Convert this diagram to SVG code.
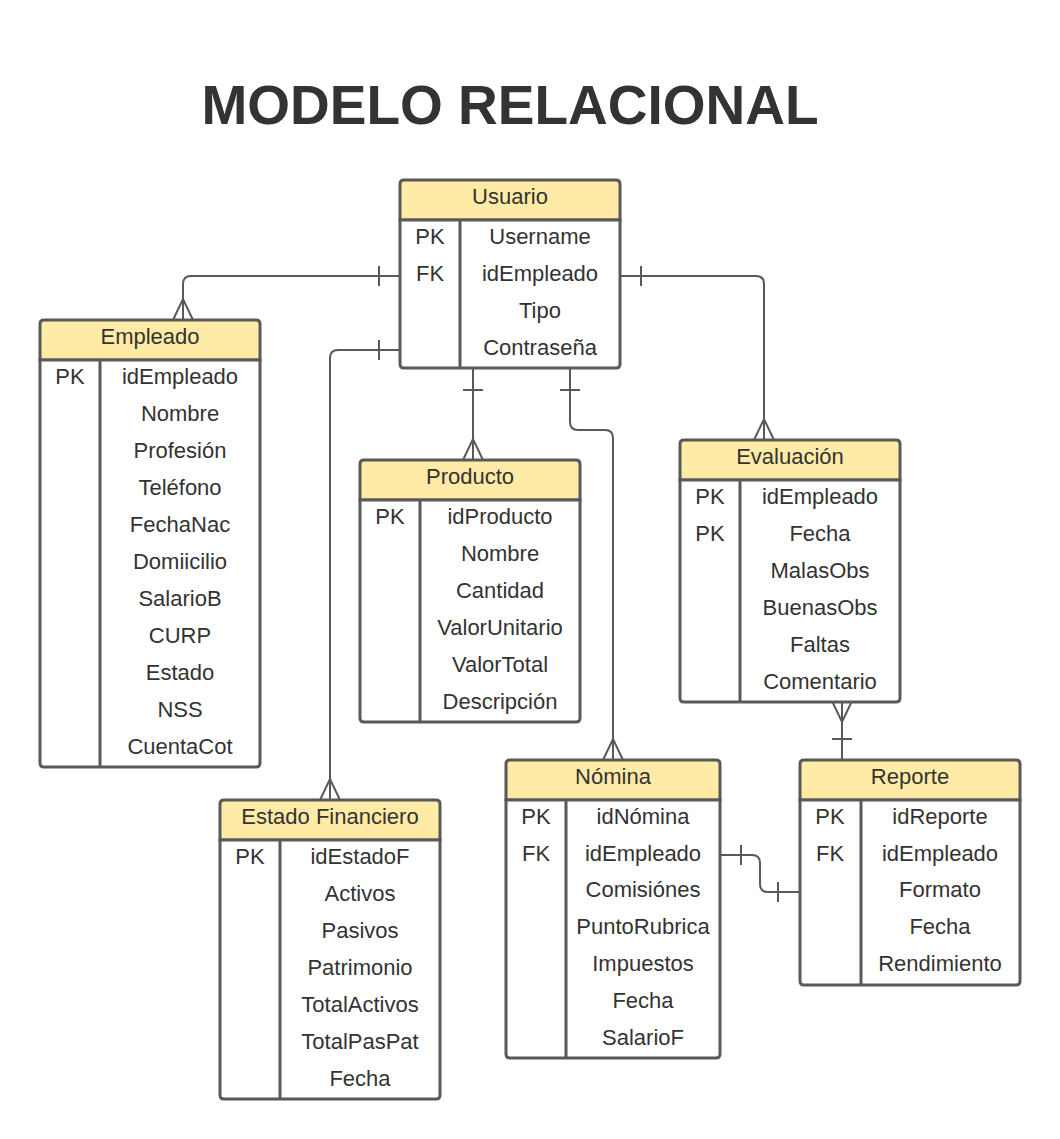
<svg xmlns="http://www.w3.org/2000/svg" width="1060" height="1139" viewBox="0 0 1060 1139">
<style>
.box{fill:#fff;stroke:#595959;stroke-width:3}
.hd{fill:#ffeba6;stroke:#595959;stroke-width:3}
.ln{fill:none;stroke:#595959;stroke-width:3}
.cn{fill:none;stroke:#595959;stroke-width:2}
text{font-family:"Liberation Sans",Arial,sans-serif;font-size:22px;fill:#333;text-anchor:middle}
.title{font-size:55px;font-weight:bold}
</style>
<rect width="1060" height="1139" fill="#fff"/>
<text class="title" x="510" y="124">MODELO RELACIONAL</text>

<g id="connectors">
  <!-- Usuario - Empleado -->
  <path class="cn" d="M400,276 H191 Q183,276 183,284 V320"/>
  <path class="cn" d="M379,266 V286 M173,320 L183,299 L193,320"/>
  <!-- Usuario - Estado Financiero -->
  <path class="cn" d="M400,350 H338 Q330,350 330,358 V800"/>
  <path class="cn" d="M379,340 V360 M320,800 L330,779 L340,800"/>
  <!-- Usuario - Evaluacion -->
  <path class="cn" d="M620,276 H756 Q764,276 764,284 V440"/>
  <path class="cn" d="M641,266 V286 M754,440 L764,419 L774,440"/>
  <!-- Usuario - Producto -->
  <path class="cn" d="M473,368 V460"/>
  <path class="cn" d="M463,390 H483 M463,460 L473,439 L483,460"/>
  <!-- Usuario - Nomina -->
  <path class="cn" d="M570,368 V422 Q570,430 578,430 H605 Q613,430 613,438 V760"/>
  <path class="cn" d="M560,390 H580 M603,760 L613,739 L623,760"/>
  <!-- Evaluacion - Reporte -->
  <path class="cn" d="M842,701 V760"/>
  <path class="cn" d="M832,701 L842,722 L852,701 M832,739 H852"/>
  <!-- Nomina - Reporte -->
  <path class="cn" d="M720,855 H752 Q760,855 760,863 V884 Q760,892 768,892 H800"/>
  <path class="cn" d="M741,845 V865 M778,882 V902"/>
</g>

<g id="usuario">
  <path class="hd" d="M400,220 V184 Q400,180 404,180 H616 Q620,180 620,184 V220 Z"/>
  <path class="box" d="M400,220 H620 V364 Q620,368 616,368 H404 Q400,368 400,364 Z"/>
  <path class="ln" d="M460,220 V368"/>
  <text x="510" y="204">Usuario</text>
  <text x="430" y="244">PK</text><text x="540" y="244">Username</text>
  <text x="430" y="281">FK</text><text x="540" y="281">idEmpleado</text>
  <text x="540" y="318">Tipo</text>
  <text x="540" y="355">Contraseña</text>
</g>

<g id="empleado">
  <path class="hd" d="M40,360 V324 Q40,320 44,320 H256 Q260,320 260,324 V360 Z"/>
  <path class="box" d="M40,360 H260 V763 Q260,767 256,767 H44 Q40,767 40,763 Z"/>
  <path class="ln" d="M100,360 V767"/>
  <text x="150" y="344">Empleado</text>
  <text x="70" y="384">PK</text><text x="180" y="384">idEmpleado</text>
  <text x="180" y="421">Nombre</text>
  <text x="180" y="458">Profesión</text>
  <text x="180" y="495">Teléfono</text>
  <text x="180" y="532">FechaNac</text>
  <text x="180" y="569">Domiicilio</text>
  <text x="180" y="606">SalarioB</text>
  <text x="180" y="643">CURP</text>
  <text x="180" y="680">Estado</text>
  <text x="180" y="717">NSS</text>
  <text x="180" y="754">CuentaCot</text>
</g>

<g id="producto">
  <path class="hd" d="M360,500 V464 Q360,460 364,460 H576 Q580,460 580,464 V500 Z"/>
  <path class="box" d="M360,500 H580 V718 Q580,722 576,722 H364 Q360,722 360,718 Z"/>
  <path class="ln" d="M420,500 V722"/>
  <text x="470" y="484">Producto</text>
  <text x="390" y="524">PK</text><text x="500" y="524">idProducto</text>
  <text x="500" y="561">Nombre</text>
  <text x="500" y="598">Cantidad</text>
  <text x="500" y="635">ValorUnitario</text>
  <text x="500" y="672">ValorTotal</text>
  <text x="500" y="709">Descripción</text>
</g>

<g id="evaluacion">
  <path class="hd" d="M680,480 V444 Q680,440 684,440 H896 Q900,440 900,444 V480 Z"/>
  <path class="box" d="M680,480 H900 V698 Q900,702 896,702 H684 Q680,702 680,698 Z"/>
  <path class="ln" d="M740,480 V702"/>
  <text x="790" y="464">Evaluación</text>
  <text x="710" y="504">PK</text><text x="820" y="504">idEmpleado</text>
  <text x="710" y="541">PK</text><text x="820" y="541">Fecha</text>
  <text x="820" y="578">MalasObs</text>
  <text x="820" y="615">BuenasObs</text>
  <text x="820" y="652">Faltas</text>
  <text x="820" y="689">Comentario</text>
</g>

<g id="estado-financiero">
  <path class="hd" d="M220,840 V804 Q220,800 224,800 H436 Q440,800 440,804 V840 Z"/>
  <path class="box" d="M220,840 H440 V1095 Q440,1099 436,1099 H224 Q220,1099 220,1095 Z"/>
  <path class="ln" d="M280,840 V1099"/>
  <text x="330" y="824">Estado Financiero</text>
  <text x="250" y="864">PK</text><text x="360" y="864">idEstadoF</text>
  <text x="360" y="901">Activos</text>
  <text x="360" y="938">Pasivos</text>
  <text x="360" y="975">Patrimonio</text>
  <text x="360" y="1012">TotalActivos</text>
  <text x="360" y="1049">TotalPasPat</text>
  <text x="360" y="1086">Fecha</text>
</g>

<g id="nomina">
  <path class="hd" d="M506,800 V764 Q506,760 510,760 H716 Q720,760 720,764 V800 Z"/>
  <path class="box" d="M506,800 H720 V1054 Q720,1058 716,1058 H510 Q506,1058 506,1054 Z"/>
  <path class="ln" d="M566,800 V1058"/>
  <text x="613" y="784">Nómina</text>
  <text x="536" y="824">PK</text><text x="643" y="824">idNómina</text>
  <text x="536" y="861">FK</text><text x="643" y="861">idEmpleado</text>
  <text x="643" y="897">Comisiónes</text>
  <text x="643" y="934">PuntoRubrica</text>
  <text x="643" y="971">Impuestos</text>
  <text x="643" y="1008">Fecha</text>
  <text x="643" y="1045">SalarioF</text>
</g>

<g id="reporte">
  <path class="hd" d="M800,800 V764 Q800,760 804,760 H1016 Q1020,760 1020,764 V800 Z"/>
  <path class="box" d="M800,800 H1020 V981 Q1020,985 1016,985 H804 Q800,985 800,981 Z"/>
  <path class="ln" d="M861,800 V985"/>
  <text x="910" y="784">Reporte</text>
  <text x="830" y="824">PK</text><text x="940" y="824">idReporte</text>
  <text x="830" y="861">FK</text><text x="940" y="861">idEmpleado</text>
  <text x="940" y="897">Formato</text>
  <text x="940" y="934">Fecha</text>
  <text x="940" y="971">Rendimiento</text>
</g>
</svg>
